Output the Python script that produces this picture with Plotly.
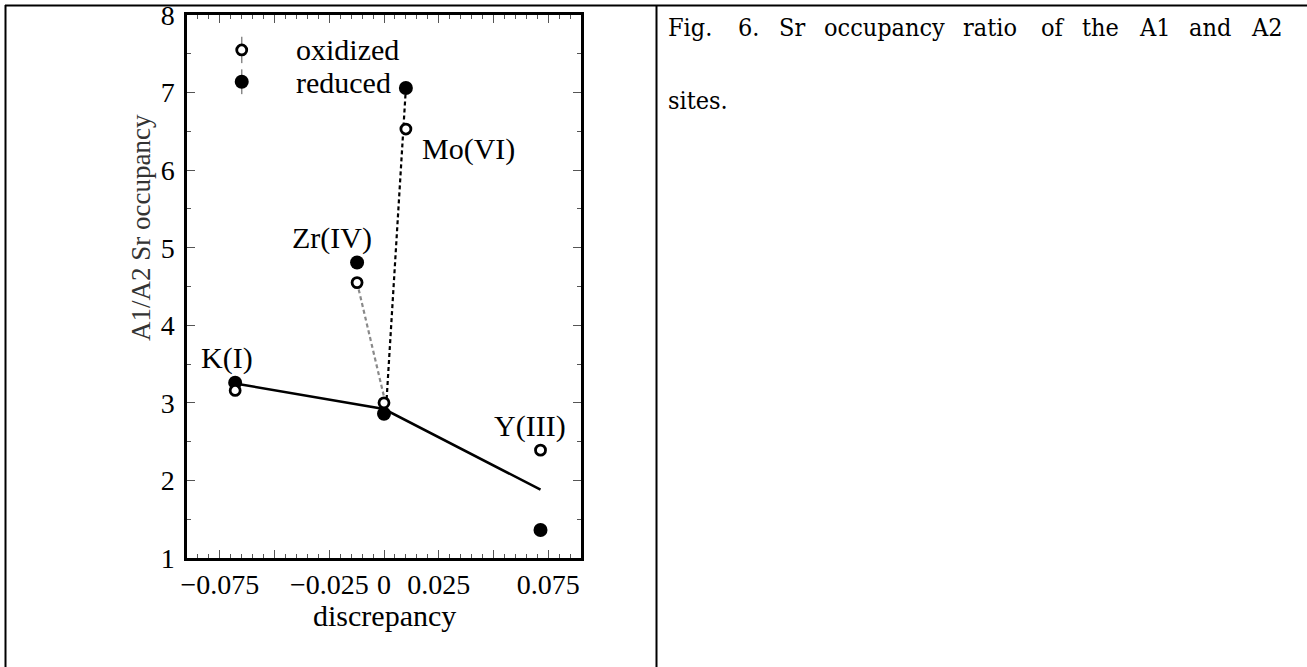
import plotly.graph_objects as go

# Dopant discrepancy (x) and A1/A2 Sr occupancy ratio (y)
dopants = ["K(I)", "Zr(IV)", "undoped", "Mo(VI)", "Y(III)"]
discrepancy = [-0.068, -0.0123, 0.0, 0.010, 0.0715]
oxidized = [3.16, 4.55, 3.00, 6.53, 2.39]
reduced = [3.26, 4.81, 2.86, 7.06, 1.36]

# Trend through the K / undoped / Y samples
trend_x = [-0.068, 0.0, 0.0715]
trend_y = [3.25, 2.92, 1.88]

# Dashed guides from the undoped sample toward Zr and Mo
zr_guide_x = [-0.0123, 0.0]
zr_guide_y = [4.55, 3.08]
mo_guide_x = [0.0012, 0.010]
mo_guide_y = [3.05, 7.06]

x_tickvals = [-0.075, -0.05, -0.025, 0.0, 0.025, 0.05, 0.075]
x_ticktext = ["\u22120.075", "", "\u22120.025", "0", "0.025", "", "0.075"]
y_tickvals = [1, 2, 3, 4, 5, 6, 7, 8]

caption_line1 = ["Fig.", "6.", "Sr", "occupancy", "ratio", "of", "the", "A1", "and", "A2"]
caption_line2 = ["sites."]

W, H = 1307, 667
SERIF = "Liberation Serif, Times New Roman, serif"
LABEL_FONT = dict(size=30, family=SERIF, color="black")
CAPTION_FONT = dict(size=25, family="DejaVu Serif Condensed, DejaVu Serif, serif", color="black")

fig = go.Figure()

fig.add_trace(go.Scatter(x=trend_x, y=trend_y, mode="lines",
                         line=dict(color="black", width=2.5), showlegend=False))
fig.add_trace(go.Scatter(x=zr_guide_x, y=zr_guide_y, mode="lines",
                         line=dict(color="#8a8a8a", width=2.2, dash="4px,3px"), showlegend=False))
fig.add_trace(go.Scatter(x=mo_guide_x, y=mo_guide_y, mode="lines",
                         line=dict(color="black", width=2.2, dash="4px,3px"), showlegend=False))

fig.add_trace(go.Scatter(x=discrepancy, y=reduced, mode="markers", name="reduced",
                         marker=dict(symbol="circle", size=14, color="black", line=dict(width=0)),
                         showlegend=False))
fig.add_trace(go.Scatter(x=discrepancy, y=oxidized, mode="markers", name="oxidized",
                         marker=dict(symbol="circle", size=10, color="white",
                                     line=dict(color="black", width=2.8)),
                         showlegend=False))

# Hand-drawn key in the upper-left corner of the frame
key_x = -0.065
fig.add_trace(go.Scatter(x=[key_x], y=[7.55], mode="markers",
                         error_y=dict(type="constant", value=0.17, color="#888", thickness=1.5, width=0),
                         marker=dict(symbol="circle", size=10, color="white",
                                     line=dict(color="black", width=2.8)),
                         showlegend=False))
fig.add_trace(go.Scatter(x=[key_x], y=[7.14], mode="markers",
                         error_y=dict(type="constant", value=0.16, color="#888", thickness=1.5, width=0),
                         marker=dict(symbol="circle", size=14, color="black"),
                         showlegend=False))


def paper_text(px, py, text, anchor="left", **kw):
    return dict(x=px / W, y=1 - py / H, xref="paper", yref="paper", text=text,
                xanchor=anchor, yanchor="middle", showarrow=False, **kw)


annotations = [
    paper_text(294, 50, "oxidized", font=LABEL_FONT),
    paper_text(294, 82, "reduced", font=LABEL_FONT),
    dict(x=0.0384, y=6.27, xref="x", yref="y", text="Mo(VI)", showarrow=False, font=LABEL_FONT),
    dict(x=-0.0238, y=5.13, xref="x", yref="y", text="Zr(IV)", showarrow=False, font=LABEL_FONT),
    dict(x=-0.0717, y=3.58, xref="x", yref="y", text="K(I)", showarrow=False, font=LABEL_FONT),
    dict(x=0.0667, y=2.70, xref="x", yref="y", text="Y(III)", showarrow=False, font=LABEL_FONT),
    paper_text(384, 615, "discrepancy", anchor="center", font=LABEL_FONT),
    paper_text(141, 228, "A1/A2 Sr occupancy", anchor="center", textangle=-90,
               font=dict(size=27, color="#333", family=SERIF)),
]

# Justified caption: words spread across the right-hand cell
line1_x = [666, 736, 777, 822, 961, 1039, 1080, 1137, 1187, 1249]
for word, px in zip(caption_line1, line1_x):
    annotations.append(paper_text(px, 28, word, font=CAPTION_FONT))
for word in caption_line2:
    annotations.append(paper_text(666, 100, word, font=CAPTION_FONT))

# Table rules around the figure and caption cells
border = dict(color="black", width=2)
shapes = [
    dict(type="line", xref="paper", yref="paper", x0=5 / W, x1=1.0, y0=1 - 5.5 / H, y1=1 - 5.5 / H, line=border),
    dict(type="line", xref="paper", yref="paper", x0=5.5 / W, x1=5.5 / W, y0=0, y1=1 - 5 / H, line=border),
    dict(type="line", xref="paper", yref="paper", x0=656.5 / W, x1=656.5 / W, y0=0, y1=1 - 5 / H, line=border),
]

axis_common = dict(
    showgrid=False, zeroline=False, showline=True, linecolor="black", linewidth=2.5,
    mirror="allticks", ticks="inside", tickcolor="#555", tickwidth=1.2,
    tickfont=dict(size=28, color="black", family=SERIF),
    automargin=False, ticklabeloverflow="allow",
)

fig.update_layout(
    width=W, height=H, autosize=False,
    margin=dict(l=0, r=0, t=0, b=0, pad=0, autoexpand=False),
    paper_bgcolor="white", plot_bgcolor="white",
    font=dict(family=SERIF, color="black"),
    xaxis=dict(axis_common, domain=[187 / W, 581 / W], range=[-0.09, 0.09],
               tickmode="array", tickvals=x_tickvals, ticktext=x_ticktext, ticklen=8,
               minor=dict(dtick=0.005, tick0=0, ticks="inside", ticklen=4, tickcolor="#555", tickwidth=1)),
    yaxis=dict(axis_common, domain=[1 - 558 / H, 1 - 15 / H], range=[0.9995, 8.0005],
               tickmode="array", tickvals=y_tickvals, ticklen=8, ticklabelstandoff=4,
               minor=dict(dtick=0.5, tick0=0, ticks="inside", ticklen=4, tickcolor="#555", tickwidth=1)),
    annotations=annotations,
    shapes=shapes,
)

fig.write_html(
    "out.html",
    post_script="document.body.style.margin='0';document.body.style.overflow='hidden';",
)
